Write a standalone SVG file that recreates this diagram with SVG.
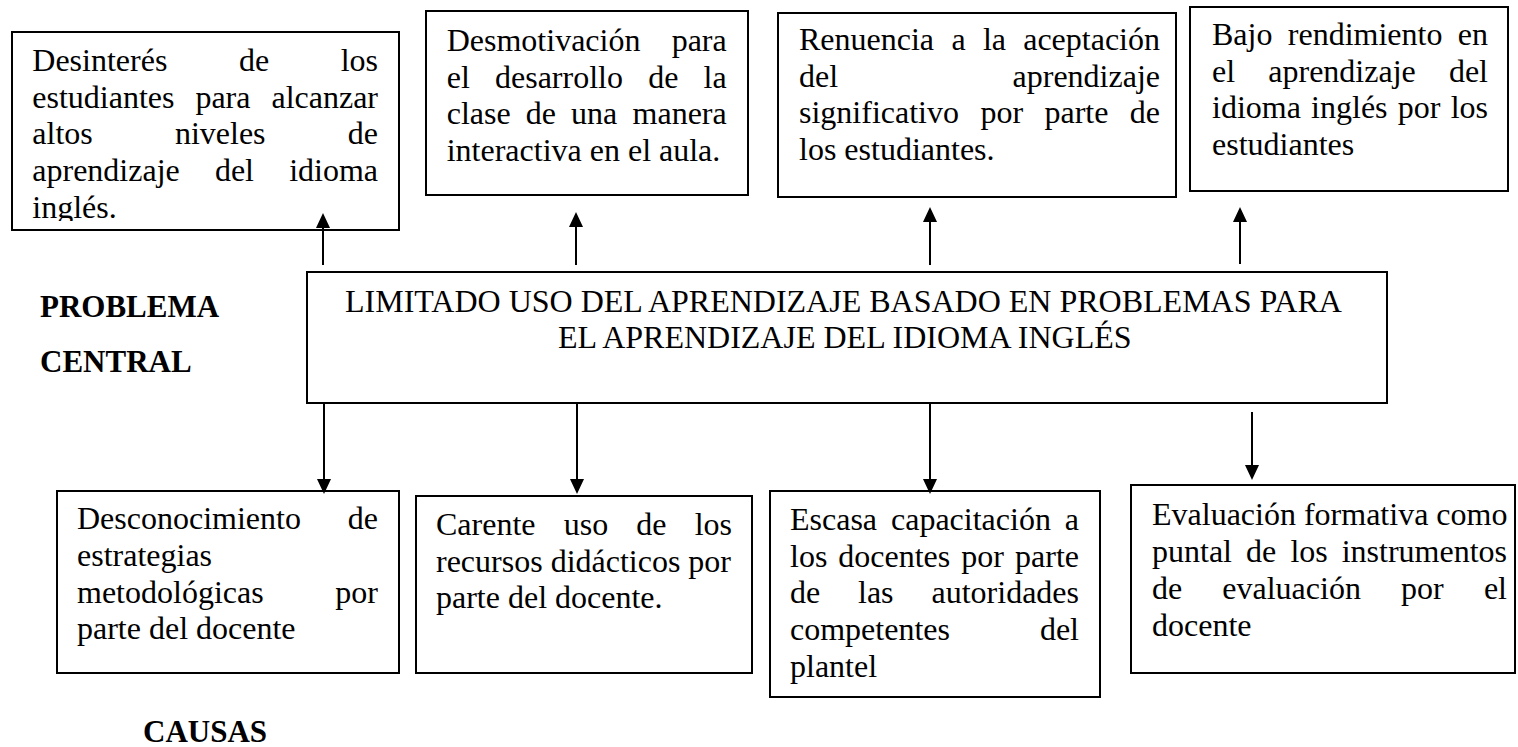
<svg xmlns="http://www.w3.org/2000/svg" width="1518" height="747" viewBox="0 0 1518 747">
<style>
.box{fill:#fff;stroke:#000;stroke-width:2}
.t{font-family:"Liberation Serif","Times New Roman",serif;font-size:32px;fill:#000}
.b{font-family:"Liberation Serif","Times New Roman",serif;font-size:31px;font-weight:bold;fill:#000}
.e{text-anchor:end}
.c{stroke:#000;stroke-width:2;fill:none}
</style>
<defs>
<marker id="ah" markerUnits="userSpaceOnUse" markerWidth="15" markerHeight="14" refX="11" refY="7" orient="auto"><path d="M0,0 L15,7 L0,14 z" fill="#000"/></marker>
<clipPath id="clip1"><rect x="0" y="0" width="420" height="221"/></clipPath>
</defs>
<rect width="1518" height="747" fill="#fff"/>

<g id="efecto1">
<rect class="box" x="12" y="32" width="387" height="198"/>
<g class="t" clip-path="url(#clip1)">
<text x="32.3" y="71">Desinterés</text><text x="238.9" y="71">de</text><text class="e" x="378" y="71">los</text>
<text x="32.3" y="107.7">estudiantes</text><text x="195.4" y="107.7">para</text><text class="e" x="378" y="107.7">alcanzar</text>
<text x="32.3" y="144.4">altos</text><text x="174.9" y="144.4">niveles</text><text class="e" x="378" y="144.4">de</text>
<text x="32.3" y="181.1">aprendizaje</text><text x="214.9" y="181.1">del</text><text class="e" x="378" y="181.1">idioma</text>
<text x="32.3" y="217.8">inglés.</text>
</g>
</g>

<g id="efecto2">
<rect class="box" x="426" y="11" width="322" height="184"/>
<g class="t">
<text x="446.7" y="51">Desmotivación</text><text class="e" x="726.7" y="51">para</text>
<text x="446.7" y="87.7">el</text><text x="495" y="87.7">desarrollo</text><text x="648.2" y="87.7">de</text><text class="e" x="726.7" y="87.7">la</text>
<text x="446.7" y="124.4">clase</text><text x="525.8" y="124.4">de</text><text x="571.1" y="124.4">una</text><text class="e" x="726.7" y="124.4">manera</text>
<text x="446.7" y="161.1">interactiva en el aula.</text>
</g>
</g>

<g id="efecto3">
<rect class="box" x="778" y="13" width="398" height="184"/>
<g class="t">
<text x="799" y="50">Renuencia</text><text x="951.4" y="50">a</text><text x="982.9" y="50">la</text><text class="e" x="1160" y="50">aceptación</text>
<text x="799" y="86.7">del</text><text class="e" x="1160" y="86.7">aprendizaje</text>
<text x="799" y="123.4">significativo</text><text x="980.4" y="123.4">por</text><text x="1044.5" y="123.4">parte</text><text class="e" x="1160" y="123.4">de</text>
<text x="799" y="160.1">los estudiantes.</text>
</g>
</g>

<g id="efecto4">
<rect class="box" x="1190" y="7" width="318" height="184"/>
<g class="t">
<text x="1212" y="45">Bajo</text><text x="1287.8" y="45">rendimiento</text><text class="e" x="1488" y="45">en</text>
<text x="1212" y="81.7">el</text><text x="1268.3" y="81.7">aprendizaje</text><text class="e" x="1488" y="81.7">del</text>
<text x="1212" y="118.4">idioma</text><text x="1311.1" y="118.4">inglés</text><text x="1397.7" y="118.4">por</text><text class="e" x="1488" y="118.4">los</text>
<text x="1212" y="155.1">estudiantes</text>
</g>
</g>

<g id="label-problema">
<text class="b" x="40" y="316.7">PROBLEMA</text>
<text class="b" x="40" y="371.7">CENTRAL</text>
</g>

<g id="problema-central">
<rect class="box" x="307" y="272" width="1080" height="131"/>
<g class="t">
<text x="345" y="311.7">LIMITADO USO DEL APRENDIZAJE BASADO EN PROBLEMAS PARA</text>
<text x="558" y="348.3">EL APRENDIZAJE DEL IDIOMA INGLÉS</text>
</g>
</g>

<g id="causa1">
<rect class="box" x="57" y="491" width="342" height="182"/>
<g class="t">
<text x="77" y="529.3">Desconocimiento</text><text class="e" x="378" y="529.3">de</text>
<text x="77" y="566">estrategias</text>
<text x="77" y="602.7">metodológicas</text><text class="e" x="378" y="602.7">por</text>
<text x="77" y="639.4">parte del docente</text>
</g>
</g>

<g id="causa2">
<rect class="box" x="416" y="496" width="336" height="177"/>
<g class="t">
<text x="436" y="535">Carente</text><text x="563.7" y="535">uso</text><text x="636.3" y="535">de</text><text class="e" x="732" y="535">los</text>
<text x="436" y="571.7">recursos didácticos por</text>
<text x="436" y="608.4">parte del docente.</text>
</g>
</g>

<g id="causa3">
<rect class="box" x="770" y="491" width="330" height="206"/>
<g class="t">
<text x="790" y="530">Escasa</text><text x="891" y="530">capacitación</text><text class="e" x="1079" y="530">a</text>
<text x="790" y="566.7">los</text><text x="838.3" y="566.7">docentes</text><text x="961.3" y="566.7">por</text><text class="e" x="1079" y="566.7">parte</text>
<text x="790" y="603.4">de</text><text x="858" y="603.4">las</text><text class="e" x="1079" y="603.4">autoridades</text>
<text x="790" y="640.1">competentes</text><text class="e" x="1079" y="640.1">del</text>
<text x="790" y="676.8">plantel</text>
</g>
</g>

<g id="causa4">
<rect class="box" x="1131" y="485" width="384" height="188"/>
<g class="t">
<text x="1152" y="525">Evaluación formativa como</text>
<text x="1152" y="562">puntal</text><text x="1246.1" y="562">de</text><text x="1290.4" y="562">los</text><text class="e" x="1507" y="562">instrumentos</text>
<text x="1152" y="599">de</text><text x="1222.3" y="599">evaluación</text><text x="1401" y="599">por</text><text class="e" x="1507" y="599">el</text>
<text x="1152" y="636">docente</text>
</g>
</g>

<g id="label-causas">
<text class="b" x="143" y="741.7">CAUSAS</text>
</g>

<g id="connectors">
<line class="c" x1="323" y1="265" x2="323" y2="217" marker-end="url(#ah)"/>
<line class="c" x1="576" y1="265" x2="576" y2="216" marker-end="url(#ah)"/>
<line class="c" x1="930" y1="265" x2="930" y2="211" marker-end="url(#ah)"/>
<line class="c" x1="1240" y1="264" x2="1240" y2="211" marker-end="url(#ah)"/>
<line class="c" x1="324" y1="403" x2="324" y2="490" marker-end="url(#ah)"/>
<line class="c" x1="577" y1="403" x2="577" y2="490" marker-end="url(#ah)"/>
<line class="c" x1="930" y1="403" x2="930" y2="490" marker-end="url(#ah)"/>
<line class="c" x1="1252" y1="412" x2="1252" y2="476" marker-end="url(#ah)"/>
</g>
</svg>
